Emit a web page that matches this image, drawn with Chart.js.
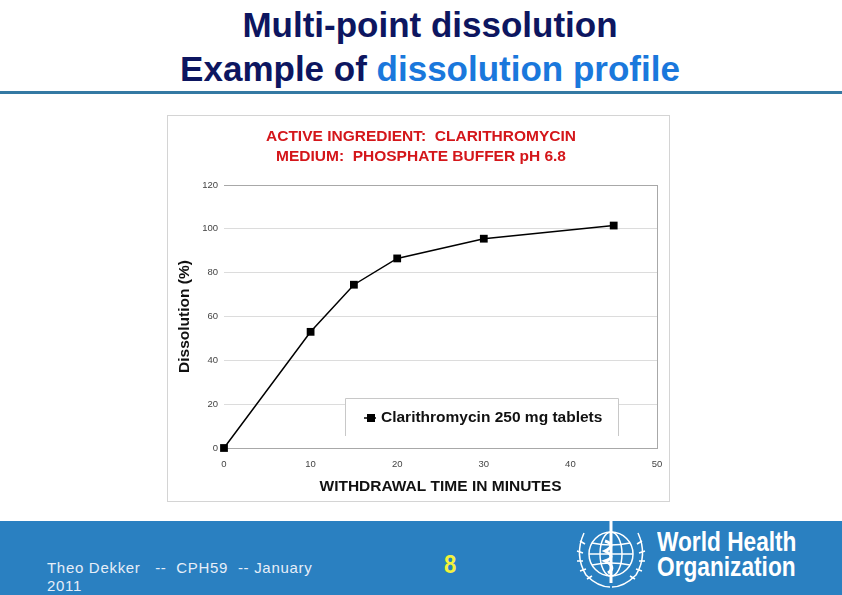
<!DOCTYPE html>
<html>
<head>
<meta charset="utf-8">
<script src="https://cdn.jsdelivr.net/npm/chart.js@4.4.0/dist/chart.umd.min.js"></script>
<style>
  html, body { margin: 0; padding: 0; background: #fff; }
  body { width: 842px; height: 595px; position: relative; overflow: hidden; font-family: 'Liberation Sans', Arial, sans-serif; }
  .title { position: absolute; left: 0; width: 860px; text-align: center; font-weight: bold; font-size: 35px; color: #0d1660; line-height: 44px; top: 3px; }
  .title span { color: #1a78dc; }
  .rule { position: absolute; left: 0; top: 91px; width: 842px; height: 3px; background: #3479a3; }
  .panel { position: absolute; left: 167px; top: 115px; width: 501px; height: 385px; border: 1px solid #d4d4d4; }
  .footer { position: absolute; left: 0; top: 521px; width: 842px; height: 74px; background: #2a80c1; }
  .author { position: absolute; left: 47px; top: 38px; color: #e6eef8; font-size: 15px; letter-spacing: 0.7px; line-height: 18px; white-space: pre; }
  .page { position: absolute; left: 444px; top: 28px; color: #f4f23c; font-weight: bold; font-size: 26px; transform: scaleX(0.85); transform-origin: left; }
  .who { position: absolute; left: 657px; top: 9px; color: #fff; font-weight: bold; font-size: 27px; line-height: 25px; transform: scaleX(0.84); transform-origin: left; white-space: nowrap; }
  .emblem { position: absolute; left: 572px; top: 0px; }
</style>
</head>
<body>
<div class="title">Multi-point dissolution<br>Example of <span>dissolution profile</span></div>
<div class="rule"></div>
<div class="panel"><canvas id="dissolutionChart" width="501" height="385"></canvas></div>
<div class="footer">
  <div class="author">Theo Dekker   --  CPH59  -- January
2011</div>
  <div class="page">8</div>
  <svg class="emblem" width="80" height="72" viewBox="0 0 80 72">
    <g fill="none" stroke="#fff" stroke-width="1.5">
      <circle cx="39" cy="33" r="22"/>
      <ellipse cx="39" cy="33" rx="11" ry="22"/>
      <line x1="17" y1="33" x2="61" y2="33"/>
      <path d="M20 22 Q39 26 58 22 M20 44 Q39 40 58 44"/>
      <path d="M12 12 Q2 34 14 54 Q26 66 38 66"/>
      <path d="M66 12 Q76 34 64 54 Q52 66 40 66"/>
      <path d="M8 20 l5 3 M5 30 l6 2 M5 40 l6 0 M8 50 l6 -2 M15 58 l5 -3 M70 20 l-5 3 M73 30 l-6 2 M73 40 l-6 0 M70 50 l-6 -2 M63 58 l-5 -3"/>
    </g>
    <line x1="39" y1="0" x2="39" y2="62" stroke="#fff" stroke-width="3"/>
    <path d="M33 20 Q45 24 33 30 Q45 36 33 40 Q45 46 36 52" fill="none" stroke="#fff" stroke-width="3"/>
  </svg>
  <div class="who">World Health<br>Organization</div>
</div>
<script>
// Clarithromycin 250 mg tablets, phosphate buffer pH 6.8
const times = [0, 10, 15, 20, 30, 45];
const dissolved = [0, 53, 74.5, 86.5, 95.5, 101.5];
const seriesName = 'Clarithromycin 250 mg tablets';
const chartTitle = ['ACTIVE INGREDIENT:  CLARITHROMYCIN', 'MEDIUM:  PHOSPHATE BUFFER pH 6.8'];
const xTitle = 'WITHDRAWAL TIME IN MINUTES';
const yTitle = 'Dissolution (%)';

const fontFamily = "'Liberation Sans', Arial, sans-serif";

// red two-line heading, centred on the panel rather than the chart area
const panelTitle = {
    id: 'panelTitle',
    afterDraw(chart) {
        const ctx = chart.ctx;
        ctx.save();
        ctx.font = 'bold 15.5px ' + fontFamily;
        ctx.fillStyle = '#d4161a';
        ctx.textAlign = 'center';
        ctx.textBaseline = 'middle';
        chartTitle.forEach((line, i) => ctx.fillText(line, 253, 21 + i * 20));
        ctx.restore();
    }
};

// legend drawn as a boxed label inside the plot, like the Excel chart
const boxLegend = {
    id: 'boxLegend',
    afterDatasetsDraw(chart) {
        const ctx = chart.ctx;
        const ds = chart.data.datasets[0];
        const x0 = 177, y0 = 282, w = 274, h = 38;
        ctx.save();
        ctx.fillStyle = '#fff';
        ctx.fillRect(x0, y0, w, h);
        ctx.strokeStyle = '#c8c8c8';
        ctx.lineWidth = 1;
        ctx.beginPath();
        ctx.moveTo(x0 + 0.5, y0 + h);
        ctx.lineTo(x0 + 0.5, y0 + 0.5);
        ctx.lineTo(x0 + w - 0.5, y0 + 0.5);
        ctx.lineTo(x0 + w - 0.5, y0 + h);
        ctx.stroke();
        const cy = y0 + 20;
        ctx.strokeStyle = '#000';
        ctx.lineWidth = 1.5;
        ctx.beginPath();
        ctx.moveTo(x0 + 19, cy);
        ctx.lineTo(x0 + 31, cy);
        ctx.stroke();
        ctx.fillStyle = '#000';
        ctx.fillRect(x0 + 22, cy - 4, 8, 8);
        ctx.font = 'bold 15.5px ' + fontFamily;
        ctx.textBaseline = 'middle';
        ctx.fillStyle = '#111';
        ctx.fillText(ds.label, x0 + 36, cy);
        ctx.restore();
    }
};

const ctx = document.getElementById('dissolutionChart').getContext('2d');
new Chart(ctx, {
    type: 'line',
    data: {
        datasets: [{
            label: seriesName,
            data: times.map((t, i) => ({ x: t, y: dissolved[i] })),
            borderColor: '#000',
            backgroundColor: '#000',
            borderWidth: 1.5,
            tension: 0,
            pointStyle: 'rect',
            pointRadius: 5.5,
            pointBorderWidth: 0,
            clip: false
        }]
    },
    options: {
        responsive: false,
        animation: false,
        layout: { padding: { left: 0, right: 12, top: 69, bottom: 0 } },
        plugins: {
            legend: { display: false },
            tooltip: { enabled: false },
            title: { display: false }
        },
        scales: {
            x: {
                type: 'linear',
                min: 0,
                max: 50,
                ticks: { stepSize: 10, color: '#444', font: { family: fontFamily, size: 9.5 }, padding: 11, maxRotation: 0 },
                grid: {
                    drawTicks: false,
                    color: c => c.tick && c.tick.value === 50 ? '#a8a8a8' : 'rgba(0,0,0,0)'
                },
                border: { display: true, color: '#a8a8a8', width: 1 },
                title: {
                    display: true,
                    text: xTitle,
                    color: '#111',
                    font: { family: fontFamily, size: 15.5, weight: 'bold' },
                    padding: 5
                },
                afterFit: s => { s.height = 53; s.paddingLeft = 0; s.paddingRight = 0; }
            },
            y: {
                min: 0,
                max: 120,
                ticks: { stepSize: 20, color: '#444', font: { family: fontFamily, size: 9.5 }, padding: 6 },
                grid: {
                    drawTicks: false,
                    color: c => (c.tick && (c.tick.value === 0 || c.tick.value === 120)) ? '#a8a8a8' : '#dcdcdc'
                },
                border: { display: false },
                title: {
                    display: true,
                    text: yTitle,
                    color: '#111',
                    font: { family: fontFamily, size: 15.5, weight: 'bold' },
                    padding: { top: 7, bottom: 0 }
                },
                afterFit: s => { s.width = 56; }
            }
        }
    },
    plugins: [boxLegend, panelTitle]
});
</script>
</body>
</html>
